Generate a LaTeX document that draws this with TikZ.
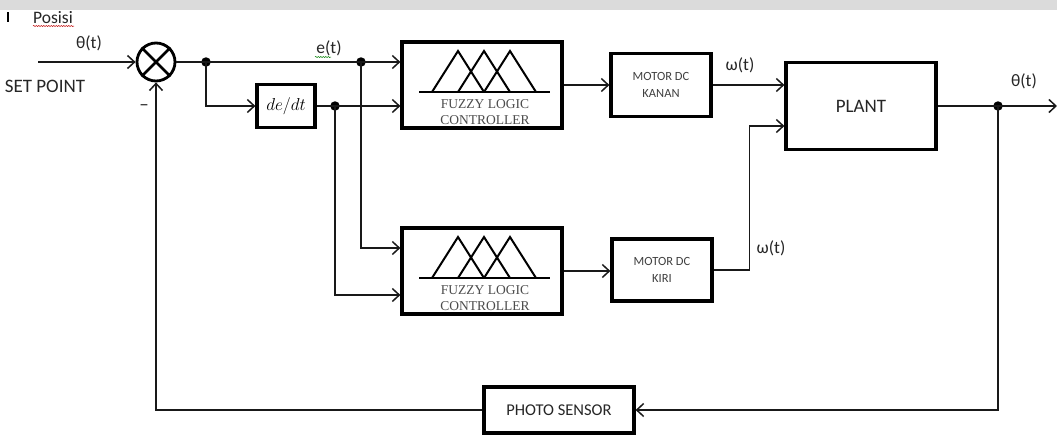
\documentclass[tikz,border=0pt]{standalone}
\usepackage{fontspec}
\setmainfont{Carlito}
\newfontfamily\flcfont{Liberation Serif}
\usetikzlibrary{arrows.meta,calc,decorations.pathmorphing}
\tikzset{
  blk/.style={draw=black, line width=3.2pt, inner sep=0pt, align=center},
  wire/.style={line width=1.6pt, draw=black!90},
  arr/.style={wire, -{Straight Barb[length=7pt,width=13pt,line width=1.5pt]}},
  dot/.style={circle, fill=black, inner sep=0pt, minimum size=9.5pt},
  lbl/.style={font=\fontsize{17.5}{17.5}\selectfont, text=black!85, inner sep=0pt},
  mtxt/.style={font=\fontsize{12.5}{17}\selectfont, text=black!75},
  flct/.style={font=\flcfont\fontsize{13.5}{13.5}\selectfont, text=black!70, inner sep=0pt},
  fuzzyicon/.pic={
    \draw[line width=2pt] (-63,7) -- (68,7);
    \foreach \p in {-24,2,28} \draw[line width=2pt, line join=miter] (\p-26,7) -- (\p,-34) -- (\p+26,7);
    \node[flct] at (3,19) {FUZZY LOGIC};
    \node[flct] at (3,35) {CONTROLLER};
  },
  squig/.style={line width=0.5pt, decorate, decoration={snake, amplitude=0.6pt, segment length=2.5pt}}
}
\begin{document}
\begin{tikzpicture}[x=1pt,y=-1pt]
\fill[white] (0,0) rectangle (1057,434);
\useasboundingbox (0,0) rectangle (1057,434);
\fill[black!14] (0,0) rectangle (1057,10);
\draw[line width=1.5pt] (8,12) -- (8,22);

% blocks
\node[circle, draw, line width=2.8pt, minimum size=38pt, inner sep=0pt] (sum) at (156,62) {};
\draw[line width=2.8pt] (sum.north west) -- (sum.south east) (sum.north east) -- (sum.south west);
\node[blk, minimum width=58pt, minimum height=43pt] (dedt) at (286,106) {\fontsize{19}{19}\selectfont $de/dt$};
\node[blk, minimum width=160pt, minimum height=86pt] (flc1) at (482,85) {};
\pic at (flc1.center) {fuzzyicon};
\node[blk, minimum width=160pt, minimum height=86pt] (flc2) at (482,271) {};
\pic at (flc2.center) {fuzzyicon};
\node[blk, minimum width=100pt, minimum height=63pt, mtxt] (kanan) at (661,85) {MOTOR DC\\KANAN};
\node[blk, minimum width=100pt, minimum height=62pt, mtxt] (kiri) at (662,270) {MOTOR DC\\KIRI};
\node[blk, minimum width=150pt, minimum height=87pt, font=\fontsize{19}{19}\selectfont, text=black!85] (plant) at (861,106) {PLANT};
\node[blk, minimum width=150pt, minimum height=46pt, font=\fontsize{16.5}{17}\selectfont, text=black!85] (sensor) at (559,410) {PHOTO SENSOR};

% junction dots
\node[dot] (d1) at (206,62) {};
\node[dot] (d2) at (361,62) {};
\node[dot] (d3) at (335,106) {};
\node[dot] (d4) at (998,106) {};
\coordinate (in) at (38,62);
\coordinate (out) at (1057,106);

% connectors
\draw[arr] (in) -- (sum.west);
\draw[wire] (sum.east) -- (d1.center);
\draw[wire] (d1.center) -- (d2.center);
\draw[arr] (d2.center) -- (flc1.west |- d2.center);
\draw[arr] (d1.center) |- (dedt.west);
\draw[wire] (dedt.east) -- (d3.center);
\draw[arr] (d3.center) -- (flc1.west |- d3.center);
\draw[arr] (d2.center) |- ($(flc2.west)+(0,-23)$);
\draw[arr] (d3.center) |- ($(flc2.west)+(0,24)$);
\draw[arr] (flc1.east) -- (kanan.west);
\draw[arr] (flc2.east) -- (kiri.west |- flc2.east);
\draw[arr] (kanan.east) -- (plant.west |- kanan.east);
\draw[arr] (kiri.east) -| ($(plant.west)+(-35,20)$) -- ($(plant.west)+(0,20)$);
\draw[wire] (plant.east) -- (d4.center);
\draw[arr] (d4.center) -- (out);
\draw[arr] (d4.center) |- (sensor.east);
\draw[arr] (sensor.west) -| (sum.south);

% labels
\node[lbl] (posisi) at (53,18) {Posisi};
\draw[squig, red!75!black] (33,26) -- (74,26);
\node[lbl] (thin) at (89,43) {θ(t)};
\node[lbl, font=\fontsize{19}{19}\selectfont] (sp) at (45,86) {SET POINT};
\node[lbl, font=\fontsize{19}{19}\selectfont] (minus) at (144,108) {–};
\node[lbl] (et) at (329,48) {e(t)};
\draw[squig, green!50!black] (315,57) -- (331,57);
\node[lbl] (w1) at (740,65) {ω(t)};
\node[lbl] (w2) at (771,248) {ω(t)};
\node[lbl] (thout) at (1024,81) {θ(t)};
\end{tikzpicture}
\end{document}
